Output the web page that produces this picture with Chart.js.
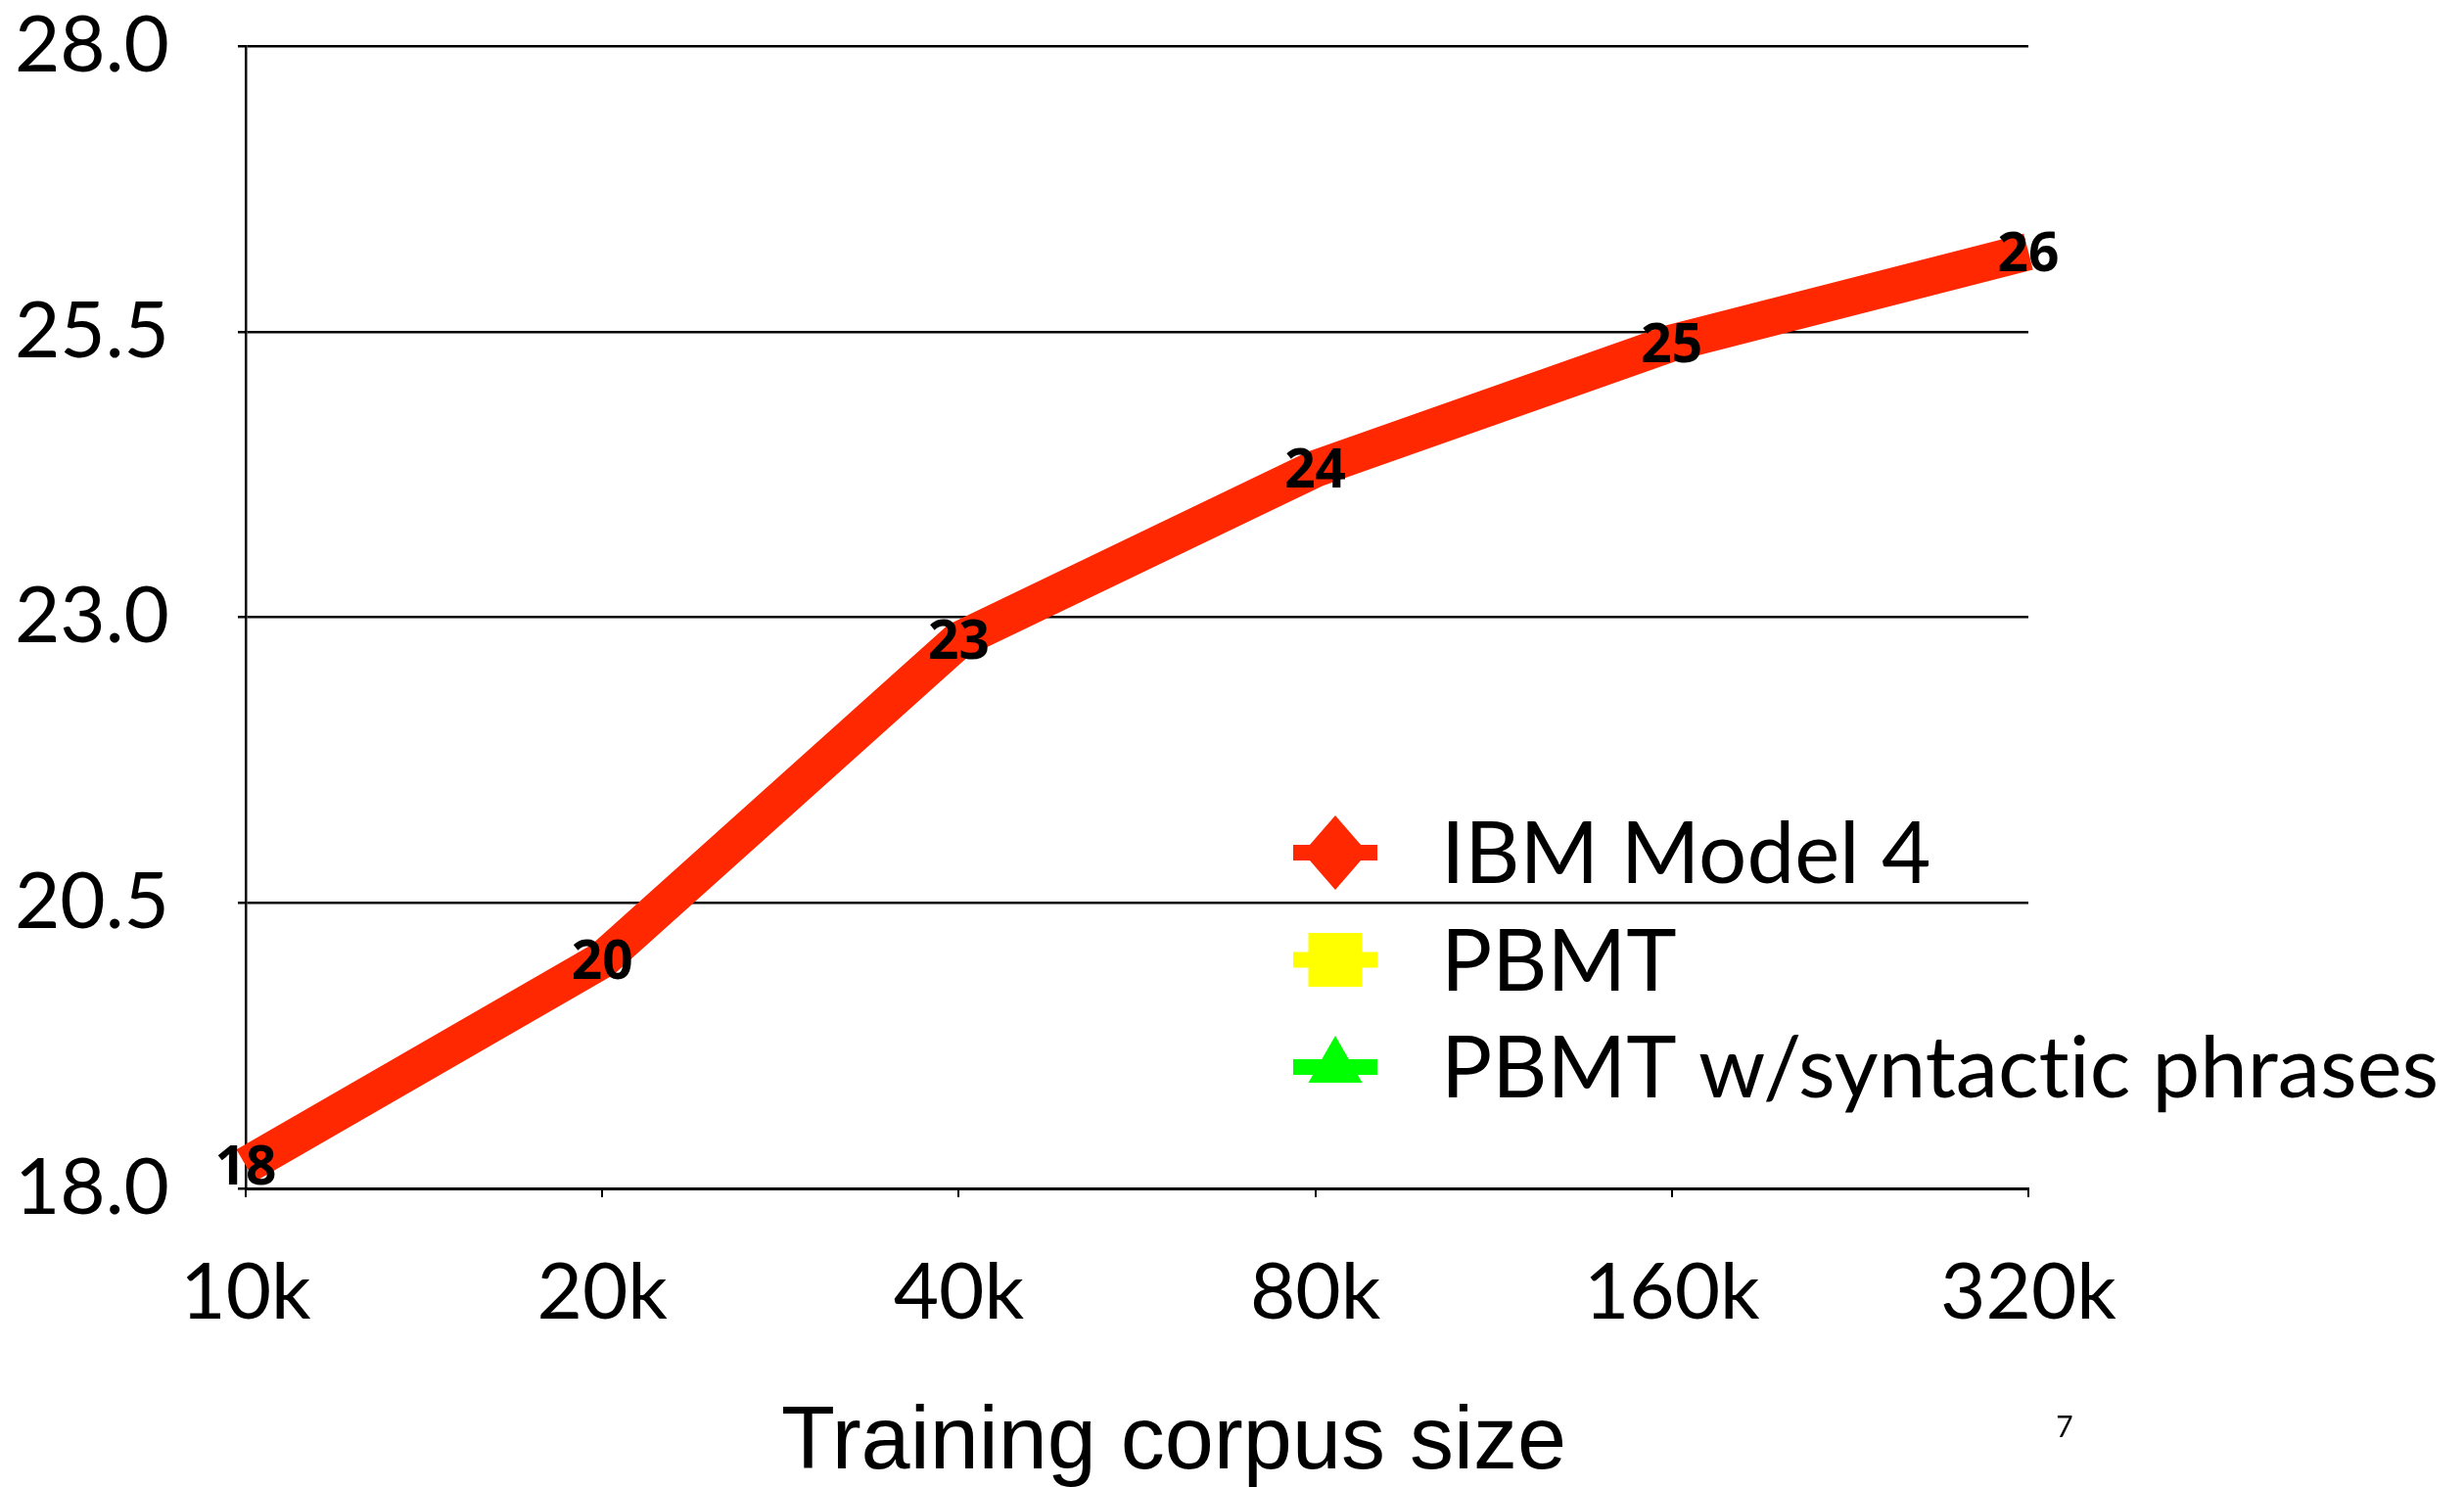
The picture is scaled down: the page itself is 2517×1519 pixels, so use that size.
<!DOCTYPE html>
<html><head><meta charset="utf-8">
<script src="https://cdn.jsdelivr.net/npm/chart.js@4"></script>
<style>html,body{margin:0;padding:0;background:#fff;overflow:hidden}#wrap{width:2517px;height:1519px;position:relative}</style>
</head><body><div id="wrap"><canvas id="c" width="2517" height="1519"></canvas></div>
<script>
// ---- data ----
const categories = ['10k', '20k', '40k', '80k', '160k', '320k'];
const ibmModel4 = [18.2, 20.0, 22.8, 24.3, 25.4, 26.2];
const pbmt = [];
const pbmtSyntactic = [];
const seriesNames = ['IBM Model 4', 'PBMT', 'PBMT w/syntactic phrases'];
const seriesColors = ['#ff2800', '#ffff00', '#00ff00'];
const seriesMarkers = ['diamond', 'square', 'triangle'];
const yTicks = [18.0, 20.5, 23.0, 25.5, 28.0];
const xAxisTitle = 'Training corpus size';
const pageNumber = '7';

const GILL = 'Lato, "Open Sans", sans-serif';

const dataLabelPlugin = {
  id: 'dataLabelPlugin',
  afterDatasetsDraw(chart) {
    const ctx = chart.ctx;
    const meta = chart.getDatasetMeta(0);
    const ds = chart.data.datasets[0];
    ctx.save();
    ctx.font = 'bold 55px "Open Sans", sans-serif';
    ctx.fillStyle = '#000';
    ctx.textAlign = 'center';
    ctx.textBaseline = 'alphabetic';
    meta.data.forEach((pt, i) => {
      const v = ds.data[i];
      if (v == null) return;
      ctx.fillText(String(Math.round(v)), pt.x, pt.y + 55 * 0.357);
    });
    ctx.restore();
  }
};

const legendPlugin = {
  id: 'legendPlugin',
  afterDraw(chart) {
    const ctx = chart.ctx;
    const x0 = 1321, x1 = 1407, cx = 1364, tx = 1472;
    const rowY0 = 871, rowGap = 109.5;
    ctx.save();
    try { ctx.textRendering = 'optimizeSpeed'; } catch (e) {}
    chart.data.datasets.forEach((ds, i) => {
      const y = rowY0 + i * rowGap;
      const col = ds.borderColor;
      ctx.fillStyle = col;
      const mk = seriesMarkers[i];
      ctx.fillRect(x0, y - 8, x1 - x0, 16);
      if (mk === 'triangle') {
        ctx.beginPath();
        ctx.moveTo(cx, y - 32);
        ctx.lineTo(cx + 27.5, y + 16);
        ctx.lineTo(cx - 27.5, y + 16);
        ctx.closePath();
        ctx.fill();
      } else if (mk === 'diamond') {
        ctx.beginPath();
        ctx.moveTo(cx, y - 38);
        ctx.lineTo(cx + 33, y);
        ctx.lineTo(cx, y + 38);
        ctx.lineTo(cx - 33, y);
        ctx.closePath();
        ctx.fill();
      } else {
        ctx.fillRect(cx - 27.5, y - 27.5, 55, 55);
      }
      ctx.fillStyle = '#000';
      ctx.font = '87px ' + GILL;
      ctx.textAlign = 'left';
      ctx.textBaseline = 'alphabetic';
      ctx.fillText(ds.label, tx, y + 31);
    });
    // axis title
    ctx.font = '90px "Liberation Sans", Arial, sans-serif';
    ctx.textAlign = 'center';
    ctx.fillText(xAxisTitle, 1199, 1500);
    // page number
    ctx.font = '30px ' + GILL;
    ctx.fillText(pageNumber, 2109, 1468);
    ctx.restore();
  }
};

function build() {
  new Chart(document.getElementById('c'), {
    type: 'line',
    data: {
      labels: categories,
      datasets: [
        { label: seriesNames[0], data: ibmModel4, borderColor: seriesColors[0], backgroundColor: seriesColors[0],
          borderWidth: 38, pointRadius: 0, tension: 0, borderCapStyle: 'butt', borderJoinStyle: 'miter', fill: false },
        { label: seriesNames[1], data: pbmt, borderColor: seriesColors[1], backgroundColor: seriesColors[1],
          borderWidth: 16, pointRadius: 0 },
        { label: seriesNames[2], data: pbmtSyntactic, borderColor: seriesColors[2], backgroundColor: seriesColors[2],
          borderWidth: 16, pointRadius: 0 }
      ]
    },
    options: {
      responsive: false,
      animation: false,
      devicePixelRatio: 1,
      layout: { padding: { top: 47, right: 445, left: 0, bottom: 0 } },
      plugins: { legend: { display: false }, tooltip: { enabled: false }, title: { display: false } },
      scales: {
        x: {
          type: 'category',
          offset: false,
          afterFit(s) { s.height = 1519 - 1214; s.paddingLeft = 0; s.paddingRight = 0; },
          grid: { drawOnChartArea: false, drawTicks: true, tickLength: 9, color: '#000', lineWidth: 2 },
          border: { display: true, color: '#000', width: 3 },
          ticks: { color: '#000', font: { family: GILL, size: 80, lineHeight: 1.2 }, padding: 50, maxRotation: 0, autoSkip: false }
        },
        y: {
          type: 'linear',
          min: 18, max: 28,
          afterFit(s) { s.width = 251; s.paddingTop = 0; s.paddingBottom = 0; },
          afterBuildTicks(s) { s.ticks = yTicks.map(v => ({ value: v })); },
          grid: { drawOnChartArea: true, drawTicks: true, tickLength: 8, color: '#000', lineWidth: 2.5 },
          border: { display: true, color: '#000', width: 2.5 },
          ticks: { color: '#000', font: { family: GILL, size: 80, lineHeight: 1 }, padding: 70,
                   callback: v => Number(v).toFixed(1) }
        }
      }
    },
    plugins: [dataLabelPlugin, legendPlugin]
  });
}

Promise.all([
  document.fonts.load('80px Lato'),
  document.fonts.load('bold 52px "Open Sans"'),
  document.fonts.load('90px "Liberation Sans"')
]).then(build, build);
</script>
</body></html>
